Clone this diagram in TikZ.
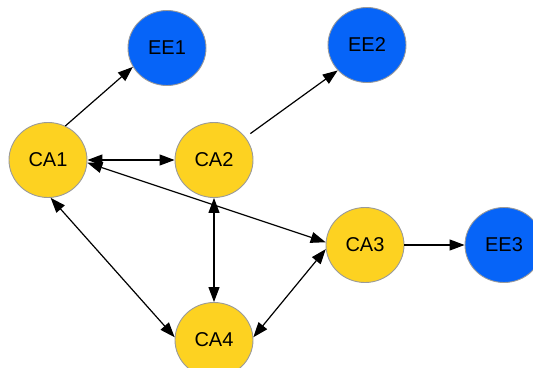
\documentclass[tikz,border=0pt]{standalone}
\usepackage{fontspec}
\setmainfont{Liberation Sans}
\usepackage{xcolor}
\usepackage{tikz}
\usetikzlibrary{arrows.meta, shapes.geometric}
\definecolor{agentcolor}{HTML}{FDD221}
\definecolor{entitycolor}{HTML}{0664F8}
\definecolor{nodeborder}{HTML}{9A9A9A}

\begin{document}
\begin{tikzpicture}[x=1pt, y=-1pt,
    agent/.style={ellipse, draw=nodeborder, fill=#1, line width=0.9pt,
                  minimum width=78pt, minimum height=75pt, inner sep=0pt,
                  font=\fontsize{20}{24}\selectfont},
    agent/.default={agentcolor},
    one way/.style={-{Triangle[length=15pt, width=11pt]}, line width=1.2pt},
    two way/.style={{Triangle[length=15pt, width=11pt]}-{Triangle[length=15pt, width=11pt]}, line width=1.2pt},
]
    \useasboundingbox (0,0) rectangle (533,367);

    % ── Entities ──
    \node[agent=entitycolor] (ee1) at (167,48) {EE1};
    \node[agent=entitycolor] (ee2) at (367,45) {EE2};
    \node[agent=entitycolor] (ee3) at (504,245) {EE3};

    % ── Agents ──
    \node[agent] (ca1) at (48,160) {CA1};
    \node[agent] (ca2) at (214,160) {CA2};
    \node[agent] (ca3) at (365,245) {CA3};
    \node[agent] (ca4) at (214,340) {CA4};

    % ── Links ──
    \draw[one way] (ca1.63) -- (ee1.209);
    \draw[one way, shorten <=6pt] (ca2.36) -- (ee2.221);
    \draw[one way] (ca3) -- (ee3);
    \draw[two way] (ca1) -- (ca2);
    \draw[two way] (ca1.-4) -- (ca3.176);
    \draw[two way] (ca2) -- (ca4);
    \draw[two way] (ca1.-86) -- (ca4.176);
    \draw[two way] (ca3.186) -- (ca4.4);

\end{tikzpicture}
\end{document}
